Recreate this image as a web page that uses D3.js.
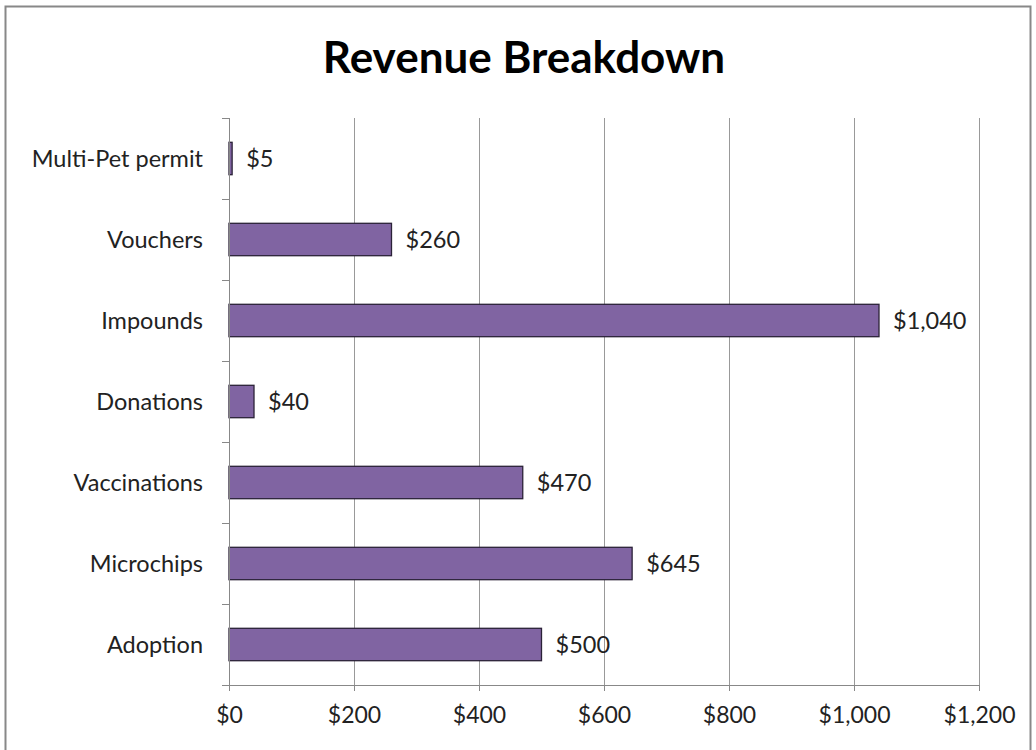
<!DOCTYPE html>
<html lang="en">
<head>
<meta charset="utf-8">
<title>Revenue Breakdown</title>
<script src="https://d3js.org/d3.v7.min.js"></script>
<style>
body { margin: 0; background: #fff; }
text { font-family: Lato, "Open Sans", sans-serif; fill: #222; }
.axis path, .axis line { stroke: #888; shape-rendering: crispEdges; }
.grid line { stroke: #999; shape-rendering: crispEdges; }
</style>
</head>
<body>
<div id="chart"></div>
<script>
// categories, top to bottom
var categories = ["Multi-Pet permit", "Vouchers", "Impounds", "Donations", "Vaccinations", "Microchips", "Adoption"];
var revenue = [5, 260, 1040, 40, 470, 645, 500];
var xTicks = [0, 200, 400, 600, 800, 1000, 1200];

var width = 1036, height = 750;
var plotLeft = 229, plotRight = 979, plotTop = 118, plotBottom = 685;

var svg = d3.select("#chart").append("svg")
  .attr("width", width)
  .attr("height", height);

// outer frame
svg.append("rect")
  .attr("x", 5.5).attr("y", 6.5)
  .attr("width", 1025).attr("height", 760)
  .attr("fill", "#fff")
  .attr("stroke", "#888")
  .attr("stroke-width", 2);

var x = d3.scaleLinear().domain([0, 1200]).range([plotLeft, plotRight]);
var y = d3.scaleBand().domain(categories).range([plotTop, plotBottom]).paddingInner(0.6).paddingOuter(0.3);
var yb = d3.scaleBand().domain(categories).range([plotTop, plotBottom]);

var fmt = function(d) { return "$" + d3.format(",")(d); };

// title
svg.append("text")
  .attr("x", 524).attr("y", 73)
  .attr("text-anchor", "middle")
  .style("font-size", "44px")
  .style("font-weight", "bold")
  .style("fill", "#000")
  .text("Revenue Breakdown");

// vertical gridlines
svg.append("g").attr("class", "grid")
  .selectAll("line")
  .data(xTicks.slice(1))
  .enter().append("line")
  .attr("x1", function(d) { return x(d); })
  .attr("x2", function(d) { return x(d); })
  .attr("y1", plotTop).attr("y2", plotBottom);

// bars
svg.selectAll(".bar")
  .data(revenue)
  .enter().append("rect")
  .attr("class", "bar")
  .attr("x", x(0))
  .attr("y", function(d, i) { return y(categories[i]); })
  .attr("width", function(d) { return x(d) - x(0); })
  .attr("height", y.bandwidth())
  .attr("fill", "#8064a2")
  .attr("stroke", "#2b2238")
  .attr("stroke-width", 1.3);

// value labels
svg.selectAll(".val")
  .data(revenue)
  .enter().append("text")
  .attr("class", "val")
  .attr("x", function(d) { return x(d) + 14; })
  .attr("y", function(d, i) { return y(categories[i]) + y.bandwidth() / 2; })
  .attr("dy", "0.35em")
  .style("font-size", "23.5px")
  .text(fmt);

// x axis
var xAxis = svg.append("g").attr("class", "axis")
  .attr("transform", "translate(0," + plotBottom + ")")
  .call(d3.axisBottom(x).tickValues(xTicks).tickFormat(fmt).tickSize(6).tickPadding(16));
xAxis.select(".domain").attr("d", "M" + plotLeft + ",0H" + plotRight);
xAxis.selectAll("text").style("font-size", "23px").attr("fill", "#222");

// y axis: ticks between categories
var yAxis = svg.append("g").attr("class", "axis")
  .attr("transform", "translate(" + plotLeft + ",0)");
yAxis.append("line")
  .attr("x1", 0).attr("x2", 0).attr("y1", plotTop).attr("y2", plotBottom);
yAxis.selectAll(".ytick")
  .data(categories.concat([null]))
  .enter().append("line")
  .attr("class", "ytick")
  .attr("x1", -7).attr("x2", 0)
  .attr("y1", function(d, i) { return plotTop + i * yb.step(); })
  .attr("y2", function(d, i) { return plotTop + i * yb.step(); });
yAxis.selectAll(".ylab")
  .data(categories)
  .enter().append("text")
  .attr("class", "ylab")
  .attr("x", -26)
  .attr("y", function(d) { return yb(d) + yb.bandwidth() / 2; })
  .attr("dy", "0.35em")
  .attr("text-anchor", "end")
  .style("font-size", "23.5px")
  .text(function(d) { return d; });
</script>
</body>
</html>
